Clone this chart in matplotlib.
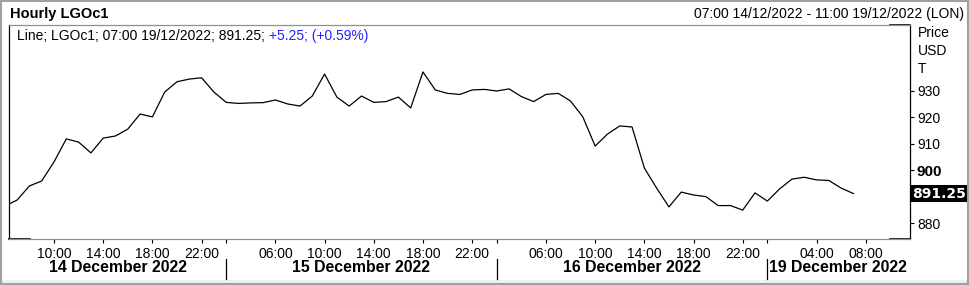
import numpy as np
import matplotlib
matplotlib.use('Agg')
import matplotlib.pyplot as plt
import matplotlib.transforms as mtransforms
from matplotlib.lines import Line2D
from matplotlib.patches import Rectangle

plt.rcParams['font.family'] = ['Liberation Sans', 'DejaVu Sans']

# Hourly LGOc1, trading hours only (bar index 0 = 07:00 14/12/2022)
prices = [886.5, 888.8, 894.1, 896.0, 903.2, 911.9, 910.7, 906.6, 912.2, 913.0,
          915.6, 921.3, 920.2, 929.6, 933.5, 934.5, 935.0, 929.6, 925.7, 925.3,
          925.5, 925.6, 926.6, 925.1, 924.3, 928.1, 936.4, 927.7, 924.3, 928.1,
          925.7, 926.0, 927.7, 923.6, 937.2, 930.4, 929.1, 928.7, 930.4, 930.6,
          930.0, 930.8, 927.9, 926.0, 928.7, 929.1, 926.2, 920.2, 909.2, 913.7,
          916.8, 916.4, 900.9, 893.3, 886.2, 891.8, 890.7, 890.1, 886.7, 886.7,
          885.0, 891.5, 888.4, 893.0, 896.7, 897.4, 896.4, 896.2, 893.3, 891.25]
first_bar = -1
last_price = 891.25

hour_ticks = [3, 7, 11, 15, 21, 25, 29, 33, 37, 43, 47, 51, 55, 59, 65, 69]
hour_labels = ['10:00', '14:00', '18:00', '22:00',
               '06:00', '10:00', '14:00', '18:00', '22:00',
               '06:00', '10:00', '14:00', '18:00', '22:00',
               '04:00', '08:00']
day_breaks = [17, 39, 61]
day_labels = ['14 December 2022', '15 December 2022', '16 December 2022', '19 December 2022']

y_ticks = [880, 900, 910, 920, 930]

W, H = 969, 285
fig = plt.figure(figsize=(W / 100, H / 100), dpi=100)
fig.patch.set_facecolor('white')

# outer frame and grey strip at the bottom
fig.add_artist(Rectangle((0, 0), 1, 5 / H, transform=fig.transFigure,
                         facecolor='#f0f0f0', edgecolor='none'))
fig.add_artist(Rectangle((1 / W, 1 / H), 1 - 2 / W, 1 - 2 / H, transform=fig.transFigure,
                         facecolor='none', edgecolor='#a0a0a0', lw=1.5))

x0, x1, y0, y1 = 9, 910, 25, 239
ax = fig.add_axes([x0 / W, 1 - y1 / H, (x1 - x0) / W, (y1 - y0) / H])

x = np.arange(len(prices)) + first_bar
ax.plot(x, prices, color='black', lw=0.9)

ax.set_xlim(-0.66, 72.6)
ax.set_ylim(874.07, 954.94)

for side in ['left', 'right']:
    ax.spines[side].set_color('black')
    ax.spines[side].set_linewidth(0.9)
for side in ['top', 'bottom']:
    ax.spines[side].set_color('#909090')
    ax.spines[side].set_linewidth(0.9)

# black corner marks on the frame
for xs, ys in [([0, 0.023], [0, 0]), ([0.978, 1], [0, 0]), ([0.978, 1], [1, 1])]:
    ax.add_line(Line2D(xs, ys, transform=ax.transAxes, color='black', lw=1.2, clip_on=False))

ax.yaxis.tick_right()
ax.set_yticks(y_ticks)
ax.set_yticklabels([str(v) for v in y_ticks])
ax.tick_params(axis='y', length=3, width=0.8, pad=2, labelsize=10)
for lbl in ax.get_yticklabels():
    if lbl.get_text() == '900':
        lbl.set_fontweight('bold')
        lbl.set_fontsize(11)

ax.set_xticks(hour_ticks)
ax.set_xticklabels(hour_labels)
ax.set_xticks(day_breaks, minor=True)
ax.tick_params(axis='x', which='both', length=3, width=0.8, pad=3, labelsize=10)

# last value box
bt = mtransforms.blended_transform_factory(ax.transAxes, ax.transData)
ax.text(1.002, last_price, f'{last_price:.2f}', transform=bt, color='white',
        fontweight='bold', fontsize=10, va='center', ha='left', family='DejaVu Sans',
        bbox=dict(facecolor='black', edgecolor='none', pad=1.2), clip_on=False)

# day labels and separators
tr = mtransforms.blended_transform_factory(ax.transData, fig.transFigure)
edges = [ax.get_xlim()[0]] + day_breaks
for i, lab in enumerate(day_labels[:-1]):
    fig.text((edges[i] + edges[i + 1]) / 2, 1 - 268 / H, lab, transform=tr,
             ha='center', va='center', fontsize=11.4, fontweight='bold')
fig.text(day_breaks[-1] + 0.1, 1 - 268 / H, day_labels[-1], transform=tr,
         ha='left', va='center', fontsize=11.4, fontweight='bold')
for b in day_breaks:
    fig.add_artist(Line2D([b, b], [1 - 259 / H, 1 - 279 / H], transform=tr,
                          color='black', lw=0.9))

# header
fig.text(10 / W, 1 - 14 / H, 'Hourly LGOc1', fontsize=10.5, fontweight='bold',
         ha='left', va='center')
fig.text(964 / W, 1 - 14 / H, '07:00 14/12/2022 - 11:00 19/12/2022 (LON)',
         fontsize=10, ha='right', va='center')

# legend line, change part in blue
t1 = fig.text(17 / W, 1 - 36 / H, 'Line; LGOc1; 07:00 19/12/2022; 891.25; ',
              fontsize=10, ha='left', va='center')
ax.annotate('+5.25; (+0.59%)', xy=(1, 0), xycoords=t1, va='bottom', ha='left',
            fontsize=10, color='#2222ff')

# unit labels
for txt, yy in [('Price', 33), ('USD', 51), ('T', 69)]:
    fig.text(918 / W, 1 - yy / H, txt, fontsize=10, ha='left', va='center')

fig.savefig('out.png', dpi=100, facecolor='white')
